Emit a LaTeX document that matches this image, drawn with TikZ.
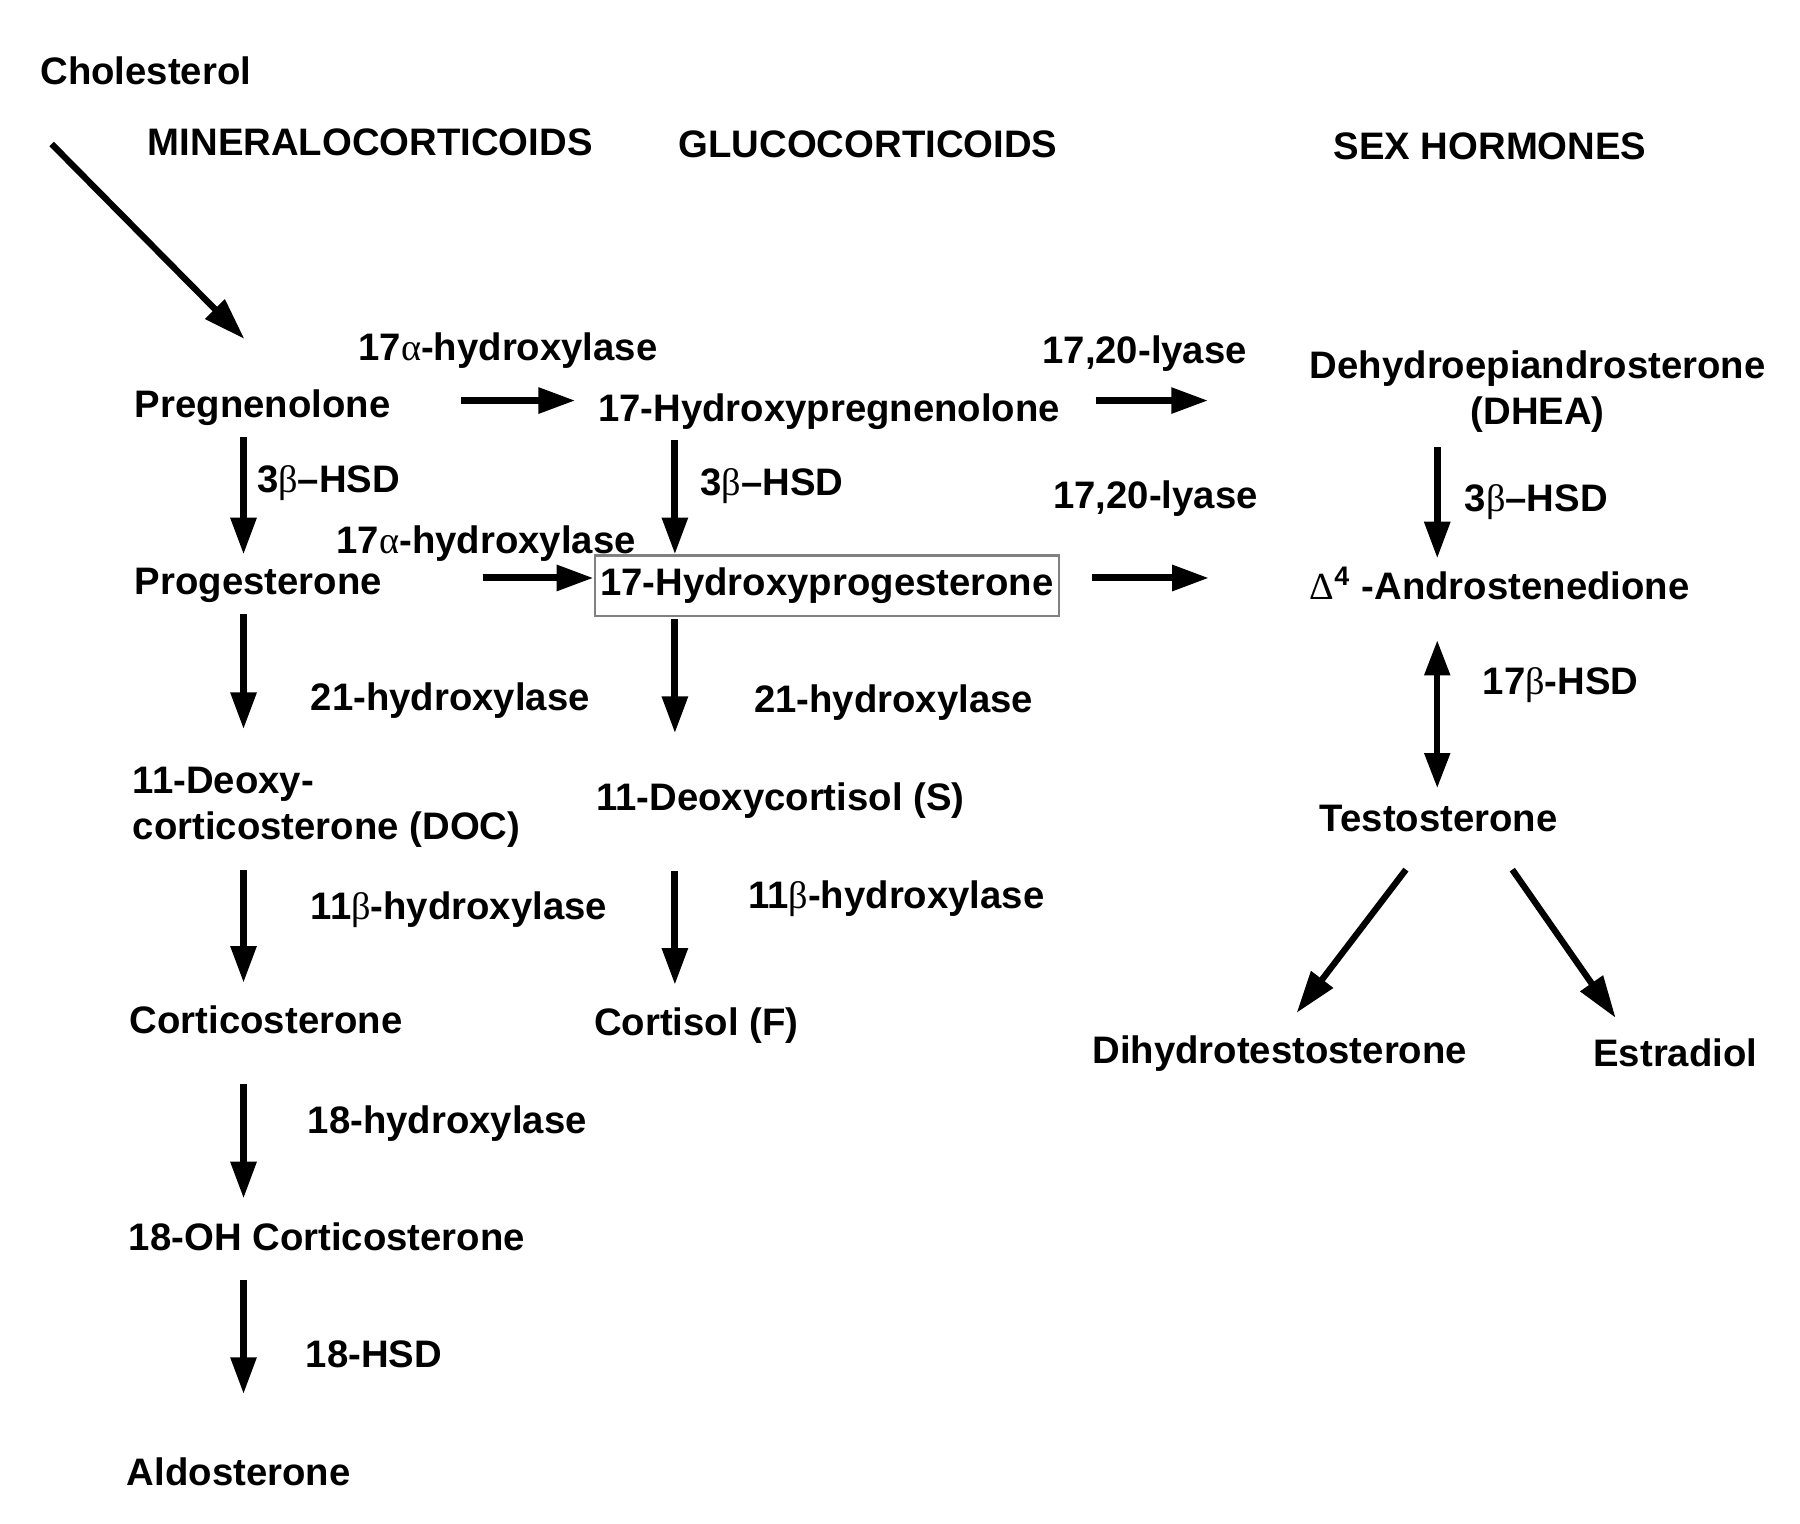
\documentclass[tikz,border=0pt]{standalone}
\usepackage{fontspec}
\setmainfont{Liberation Sans}
\newfontfamily\grkfont{Liberation Serif}
\usetikzlibrary{arrows.meta,calc}
\newcommand{\galpha}{{\grkfont\mdseries α}}
\newcommand{\gbeta}{{\grkfont\mdseries β}}
\newcommand{\gDelta}{{\grkfont\mdseries Δ}}
\begin{document}
\begin{tikzpicture}
[scale=0.994, font=\bfseries\fontsize{10.9}{13.1}\selectfont,
       cmp/.style={inner sep=0pt, text height=8pt, text depth=2.3pt, anchor=west},
       cmptwo/.style={inner sep=0pt},
       arr/.style={line width=2pt, -{Triangle[length=10.5pt,width=7pt]}},
       darr/.style={line width=1.8pt, -{Triangle[length=12pt,width=7.5pt]}},
       gap/.style 2 args={shorten <=#1, shorten >=#2}]
  \useasboundingbox (0,0) rectangle (18.109,-15.332);
  \coordinate (colA) at (2.45,0); \coordinate (colB) at (6.79,0); \coordinate (colC) at (14.46,0);
  \coordinate (rowA) at (0,-4.03); \coordinate (rowB) at (0,-5.815);
  % headings
  \node[cmp] (chol) at (0.40,-0.75) {Cholesterol};
  \node[cmp] (hmin) at (1.48,-1.46) {MINERALOCORTICOIDS};
  \node[cmp] (hglu) at (6.82,-1.48) {GLUCOCORTICOIDS};
  \node[cmp] (hsex) at (13.41,-1.50) {SEX HORMONES};
  % compounds
  \node[cmp] (preg) at (1.35,-4.10) {Pregnenolone};
  \node[cmp] (ohpreg) at (6.01,-4.14) {17-Hydroxypregnenolone};
  \node[cmptwo,align=center,anchor=north] (dhea) at (15.47,-3.52) {Dehydroepiandrosterone\\(DHEA)};
  \node[cmp] (prog) at (1.35,-5.88) {Progesterone};
  \node[cmp,anchor=center,draw=gray,line width=0.6pt,inner xsep=1.6pt,inner ysep=3.5pt] (ohprog) at (8.32,-5.895) {17-Hydroxyprogesterone};
  \node[cmp] (andro) at (13.17,-5.93) {\gDelta\textsuperscript{4} -Androstenedione};
  \node[cmptwo,align=left,anchor=north west] (doc) at (1.33,-7.71) {11-Deoxy-\\corticosterone (DOC)};
  \node[cmp] (cs) at (5.99,-8.05) {11-Deoxycortisol (S)};
  \node[cmp,anchor=center] (testo) at (14.475,-8.26) {Testosterone};
  \node[cmp] (cort) at (1.30,-10.30) {Corticosterone};
  \node[cmp] (cf) at (5.97,-10.32) {Cortisol (F)};
  \node[cmp,anchor=center] (dht) at (12.875,-10.60) {Dihydrotestosterone};
  \node[cmp,anchor=center] (estr) at (16.855,-10.63) {Estradiol};
  \node[cmp] (ohcort) at (1.29,-12.48) {18-OH Corticosterone};
  \node[cmp] (aldo) at (1.27,-14.84) {Aldosterone};
  % enzymes
  \node[cmp] (ahyd1) at (3.60,-3.53) {17\galpha-hydroxylase};
  \node[cmp] (lyase1) at (10.48,-3.56) {17,20-lyase};
  \node[cmp] (hsd1) at (2.58,-4.85) {3\gbeta–HSD};
  \node[cmp] (hsd2) at (7.04,-4.88) {3\gbeta–HSD};
  \node[cmp] (lyase2) at (10.59,-5.02) {17,20-lyase};
  \node[cmp] (hsd3) at (14.73,-5.05) {3\gbeta–HSD};
  \node[cmp] (ahyd2) at (3.38,-5.47) {17\galpha-hydroxylase};
  \node[cmp] (hyd21a) at (3.12,-7.05) {21-hydroxylase};
  \node[cmp] (hyd21b) at (7.58,-7.07) {21-hydroxylase};
  \node[cmp] (hsd17) at (14.91,-6.89) {17\gbeta-HSD};
  \node[cmp] (hyd11a) at (3.12,-9.15) {11\gbeta-hydroxylase};
  \node[cmp] (hyd11b) at (7.52,-9.04) {11\gbeta-hydroxylase};
  \node[cmp] (hyd18) at (3.09,-11.30) {18-hydroxylase};
  \node[cmp] (hsd18) at (3.07,-13.66) {18-HSD};
  % mineralocorticoid line
  \draw[darr] ($(chol.south west)+(0.12,-0.51)$) -- ($(preg.north west)+(1.11,0.50)$);
  \draw[arr,gap={.11cm}{.11cm}] (preg.south -| colA) -- (prog.north -| colA);
  \draw[arr,gap={.11cm}{.37cm}] (prog.south -| colA) -- (doc.north -| colA);
  \draw[arr,gap={.22cm}{.22cm}] (doc.south -| colA) -- (cort.north -| colA);
  \draw[arr,gap={.41cm}{.23cm}] (cort.south -| colA) -- (ohcort.north -| colA);
  \draw[arr,gap={.21cm}{.62cm}] (ohcort.south -| colA) -- (aldo.north -| colA);
  % glucocorticoid line
  \draw[arr,gap={.10cm}{0cm}] (ohpreg.south -| colB) -- (ohprog.north -| colB);
  \draw[arr,gap={.02cm}{.48cm}] (ohprog.south -| colB) -- (cs.north -| colB);
  \draw[arr,gap={.52cm}{.22cm}] (cs.south -| colB) -- (cf.north -| colB);
  % across
  \draw[arr,gap={.70cm}{.22cm}] (preg.east |- rowA) -- (ohpreg.west |- rowA);
  \draw[arr,gap={.35cm}{1.01cm}] (ohpreg.east |- rowA) -- (dhea.west |- rowA);
  \draw[arr,gap={1.00cm}{0cm}] (prog.east |- rowB) -- (ohprog.west |- rowB);
  \draw[arr,gap={.32cm}{1.00cm}] (ohprog.east |- rowB) -- (andro.west |- rowB);
  % sex hormones
  \draw[arr,gap={.14cm}{.12cm}] (dhea.south -| colC) -- (andro.north -| colC);
  \draw[line width=1.8pt,{Triangle[length=10pt,width=7pt]}-{Triangle[length=10pt,width=7pt]},gap={.32cm}{.14cm}]
    (andro.south -| colC) -- (testo.north -| colC);
  \draw[darr] ($(testo.south)+(-0.33,-0.30)$) -- ($(dht.north)+(0.17,0.22)$);
  \draw[darr] ($(testo.south)+(0.74,-0.30)$) -- ($(estr.north)+(-0.60,0.20)$);
\end{tikzpicture}
\end{document}
